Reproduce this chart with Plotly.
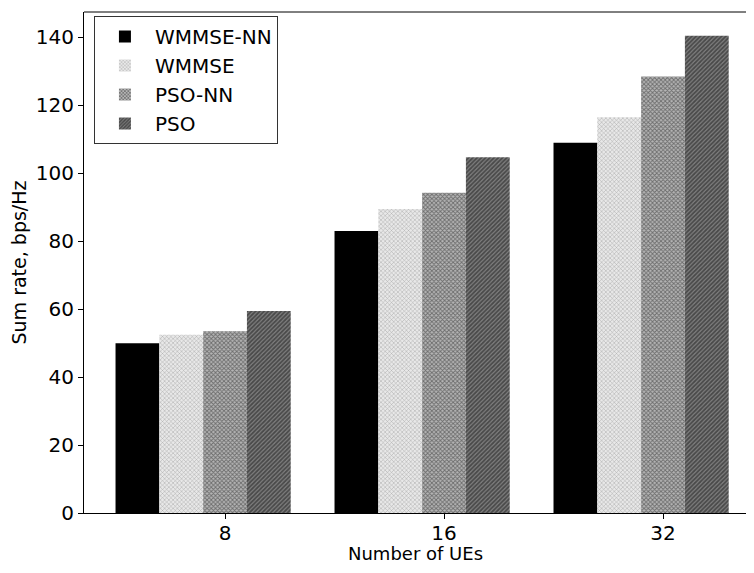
import plotly.graph_objects as go

categories = ["8", "16", "32"]
series_names = ["WMMSE-NN", "WMMSE", "PSO-NN", "PSO"]
wmmse_nn = [50.0, 83.0, 109.0]
wmmse = [52.5, 89.5, 116.5]
pso_nn = [53.5, 94.3, 128.5]
pso = [59.5, 104.7, 140.5]
series_values = [wmmse_nn, wmmse, pso_nn, pso]

styles = [
    dict(color="black", pattern=None),
    dict(color="white", pattern=dict(shape="x", size=3, solidity=0.3, fgcolor="#666", bgcolor="#e8e8e8")),
    dict(color="white", pattern=dict(shape="x", size=3, solidity=0.5, fgcolor="#222", bgcolor="#b5b5b5")),
    dict(color="white", pattern=dict(shape="/", size=3, solidity=0.6, fgcolor="#111", bgcolor="#808080")),
]

xpos = list(range(len(categories)))
bar_w = 0.2

fig = go.Figure()
for k, (name, vals, st) in enumerate(zip(series_names, series_values, styles)):
    marker = dict(color=st["color"], line=dict(width=0))
    if st["pattern"] is not None:
        marker["pattern"] = st["pattern"]
    fig.add_trace(go.Bar(
        x=xpos, y=vals, name=name, width=bar_w, legendgroup=name,
        offset=-0.5 + k * bar_w, marker=marker,
    ))

fs = 20
ts = 18
fig.update_layout(
    width=738, height=557,
    margin=dict(l=76, r=0, t=4, b=52),
    plot_bgcolor="white", paper_bgcolor="white",
    barmode="overlay",
    font=dict(family="DejaVu Sans", size=fs, color="black"),
    showlegend=True,
    legend=dict(
        x=0.015, y=0.992, xanchor="left", yanchor="top",
        bordercolor="#333", borderwidth=1, bgcolor="white",
        font=dict(family="DejaVu Sans", size=fs, color="black"),
        itemwidth=50, tracegroupgap=0,
    ),
    xaxis=dict(
        range=[-0.644, 2.379],
        tickvals=xpos, ticktext=categories,
        ticks="outside", ticklen=5, tickwidth=1, tickcolor="black",
        showline=True, linecolor="black", linewidth=1, mirror=False,
        showgrid=False, zeroline=False, automargin=False,
        ticklabelstandoff=-3,
        tickfont=dict(size=fs),
    ),
    yaxis=dict(
        range=[0, 147.5],
        tickvals=[0, 20, 40, 60, 80, 100, 120, 140],
        ticks="outside", ticklen=5, tickwidth=1, tickcolor="black",
        showline=True, linecolor="black", linewidth=1, mirror=False,
        showgrid=False, zeroline=False, automargin=False,
        title=dict(text="Sum rate, bps/Hz", font=dict(size=19), standoff=10),
        tickfont=dict(size=fs),
    ),
    shapes=[dict(type="line", xref="paper", yref="paper", x0=0, x1=1, y0=1, y1=1,
                 line=dict(color="black", width=1))],
    annotations=[dict(text="Number of UEs", xref="paper", yref="paper",
                      x=0.5, y=0, xanchor="center", yanchor="middle",
                      yshift=-40, showarrow=False, font=dict(size=ts))],
)

fig.write_html("out.html")
